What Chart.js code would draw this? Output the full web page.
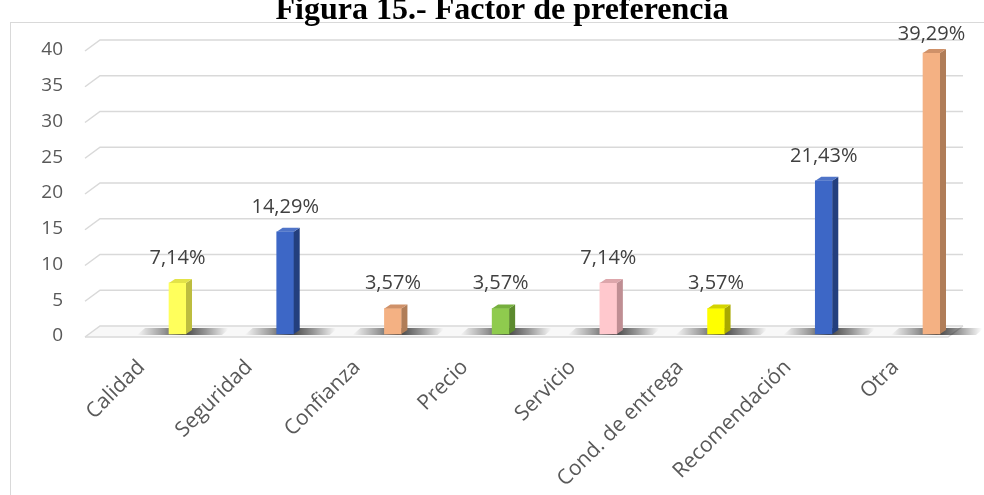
<!DOCTYPE html>
<html>
<head>
<meta charset="utf-8">
<title>Factor de preferencia</title>
<script src="https://cdn.jsdelivr.net/npm/chart.js@4.4.1/dist/chart.umd.min.js"></script>
<style>
  html, body { margin: 0; padding: 0; background: #fff; }
  #wrap { width: 984px; height: 495px; }
</style>
</head>
<body>
<div id="wrap"><canvas id="barCanvas" width="984" height="495"></canvas></div>
<script>
// datos
const categorias = ["Calidad", "Seguridad", "Confianza", "Precio", "Servicio", "Cond. de entrega", "Recomendación", "Otra"];
const porcentajes = [7.14, 14.29, 3.57, 3.57, 7.14, 3.57, 21.43, 39.29];
const etiquetas = ["7,14%", "14,29%", "3,57%", "3,57%", "7,14%", "3,57%", "21,43%", "39,29%"];
const ticksY = [0, 5, 10, 15, 20, 25, 30, 35, 40];

// colores de cada barra: frente, lado, tapa
const colorFrente = ["#FFFF5C", "#3D67C6", "#F4B183", "#8FCB4E", "#FFC8CD", "#FFFF00", "#3D67C6", "#F4B183"];
const colorLado = ["#BDBD3F", "#233F7E", "#B07D58", "#5C8A2E", "#BF8E93", "#A9A900", "#233F7E", "#B07D58"];
const colorTapa = ["#E3E348", "#4F74C8", "#CF9169", "#76AF3E", "#DDA6AB", "#D4D400", "#4F74C8", "#CF9169"];

const barCanvas = document.getElementById("barCanvas");

// fondo, titulo, rejilla con perspectiva y sombras
const fondo3d = {
  id: "fondo3d",
  beforeDraw(chart) {
    const c = chart.ctx;
    c.save();
    c.fillStyle = "#fff";
    c.fillRect(0, 0, chart.width, chart.height);
    c.strokeStyle = "#d9d9d9";
    c.lineWidth = 1;
    c.strokeRect(10.5, 22.5, chart.width, chart.height);
    c.fillStyle = "#000";
    c.font = 'bold 32px "Liberation Serif"';
    c.textAlign = "center";
    c.textBaseline = "alphabetic";
    c.fillText("Figura 15.- Factor de preferencia", 502, 19);
    c.restore();
  },
  beforeDatasetsDraw(chart) {
    const c = chart.ctx;
    const y = chart.scales.y;
    const y0 = y.getPixelForValue(0);
    c.save();
    // piso
    c.fillStyle = "#f8f8f8";
    c.beginPath();
    c.moveTo(85, y0 + 3); c.lineTo(948, y0 + 3); c.lineTo(963, y0 - 8); c.lineTo(100, y0 - 8);
    c.closePath();
    c.fill();
    c.strokeStyle = "#d9d9d9";
    c.lineWidth = 1.5;
    ticksY.forEach(v => {
      const py = y.getPixelForValue(v);
      c.beginPath();
      c.moveTo(85, py + 3); c.lineTo(100, py - 8); c.lineTo(963, py - 8);
      c.stroke();
    });
    c.beginPath();
    c.moveTo(85, y0 + 3); c.lineTo(948, y0 + 3); c.lineTo(963, y0 - 8);
    c.stroke();
    // sombras bajo las barras
    chart.getDatasetMeta(0).data.forEach(bar => {
      const l = bar.x - bar.width / 2, r = bar.x + bar.width / 2;
      const g = c.createLinearGradient(l - 32, 0, r + 42, 0);
      g.addColorStop(0, "rgba(0,0,0,0)");
      g.addColorStop(0.3, "rgba(0,0,0,0.4)");
      g.addColorStop(0.5, "rgba(0,0,0,0.75)");
      g.addColorStop(0.75, "rgba(0,0,0,0.4)");
      g.addColorStop(1, "rgba(0,0,0,0)");
      c.fillStyle = g;
      c.beginPath();
      c.moveTo(l - 32, y0 + 1); c.lineTo(r + 36, y0 + 1); c.lineTo(r + 44, y0 - 6); c.lineTo(l - 24, y0 - 6);
      c.closePath();
      c.fill();
    });
    c.restore();
  },
  afterDatasetsDraw(chart) {
    const c = chart.ctx;
    c.save();
    chart.getDatasetMeta(0).data.forEach((bar, i) => {
      const l = bar.x - bar.width / 2, r = bar.x + bar.width / 2;
      // lado
      c.fillStyle = colorLado[i];
      c.beginPath();
      c.moveTo(r, bar.y); c.lineTo(r + 6, bar.y - 4); c.lineTo(r + 6, bar.base - 4); c.lineTo(r, bar.base);
      c.closePath();
      c.fill();
      // tapa
      c.fillStyle = colorTapa[i];
      c.beginPath();
      c.moveTo(l, bar.y); c.lineTo(l + 6, bar.y - 4); c.lineTo(r + 6, bar.y - 4); c.lineTo(r, bar.y);
      c.closePath();
      c.fill();
      // etiqueta
      c.fillStyle = "#404040";
      c.font = '20px "Open Sans"';
      c.textAlign = "center";
      c.textBaseline = "alphabetic";
      c.fillText(etiquetas[i], bar.x, Math.max(bar.y - 19, 40));
    });
    c.restore();
  }
};

const barChart = new Chart(barCanvas, {
  type: "bar",
  data: {
    labels: categorias,
    datasets: [{
      data: porcentajes,
      backgroundColor: colorFrente,
      barThickness: 17,
      clip: false
    }]
  },
  options: {
    responsive: false,
    animation: false,
    devicePixelRatio: 1,
    layout: { padding: { top: 48, right: 52.5, bottom: 0, left: 0 } },
    plugins: {
      legend: { display: false },
      title: { display: false },
      tooltip: { enabled: false }
    },
    scales: {
      x: {
        offset: false,
        grid: { display: false, drawTicks: false },
        border: { display: false },
        ticks: {
          color: "#595959",
          font: { family: "Open Sans", size: 21 },
          minRotation: 45,
          maxRotation: 45,
          autoSkip: false,
          padding: 21,
          labelOffset: -36
        },
        afterFit(scale) { scale.height = 161; }
      },
      y: {
        min: 0,
        max: 40,
        grid: { display: false, drawTicks: false },
        border: { display: false },
        ticks: {
          stepSize: 5,
          color: "#595959",
          font: { family: "Open Sans", size: 19 },
          padding: 114.5,
          labelOffset: 2
        },
        afterFit(scale) {
          scale.width = 177.5;
          scale.paddingTop = 0;
          scale.paddingBottom = 0;
        }
      }
    }
  },
  plugins: [fondo3d]
});
</script>
</body>
</html>
